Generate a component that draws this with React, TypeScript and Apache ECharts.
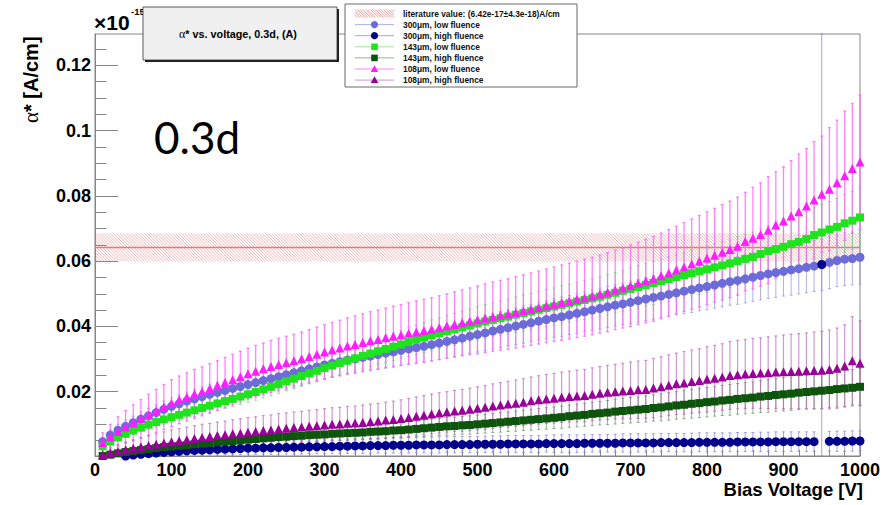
import React, { useEffect, useRef } from "react";
import * as echarts from "echarts";

// ---------- data ----------
const voltages = [
  10, 20, 30, 40, 50, 60, 70, 80, 90, 100,
  110, 120, 130, 140, 150, 160, 170, 180, 190, 200,
  210, 220, 230, 240, 250, 260, 270, 280, 290, 300,
  310, 320, 330, 340, 350, 360, 370, 380, 390, 400,
  410, 420, 430, 440, 450, 460, 470, 480, 490, 500,
  510, 520, 530, 540, 550, 560, 570, 580, 590, 600,
  610, 620, 630, 640, 650, 660, 670, 680, 690, 700,
  710, 720, 730, 740, 750, 760, 770, 780, 790, 800,
  810, 820, 830, 840, 850, 860, 870, 880, 890, 900,
  910, 920, 930, 940, 950, 960, 970, 980, 990, 1000,
];

const alpha300Low = [
  .0047, .0067, .0082, .0094, .0105, .0116, .0126, .0136, .0146, .0155,
  .0163, .0171, .0178, .0185, .0192, .0198, .0204, .0210, .0216, .0222,
  .0228, .0234, .0240, .0246, .0252, .0258, .0264, .0270, .0276, .0282,
  .0287, .0292, .0297, .0301, .0305, .0309, .0314, .0318, .0322, .0327,
  .0331, .0335, .0339, .0344, .0349, .0354, .0359, .0364, .0370, .0375,
  .0380, .0386, .0391, .0396, .0401, .0406, .0411, .0416, .0421, .0426,
  .0430, .0435, .0440, .0445, .0450, .0455, .0460, .0465, .0469, .0474,
  .0479, .0484, .0489, .0493, .0498, .0503, .0508, .0513, .0518, .0522,
  .0527, .0532, .0537, .0541, .0546, .0551, .0556, .0561, .0565, .0569,
  .0573, .0577, .0581, .0585, .0589, .0596, .0602, .0606, .0608, .0612,
];
const err300Low = [
  .0014, .0016, .0018, .0019, .0020, .0022, .0023, .0024, .0025, .0026,
  .0027, .0028, .0029, .0030, .0031, .0031, .0032, .0033, .0034, .0034,
  .0035, .0036, .0037, .0037, .0038, .0039, .0040, .0040, .0041, .0042,
  .0042, .0043, .0044, .0044, .0045, .0045, .0046, .0046, .0047, .0047,
  .0048, .0048, .0049, .0049, .0050, .0051, .0051, .0052, .0052, .0053,
  .0054, .0054, .0055, .0055, .0056, .0057, .0057, .0058, .0058, .0059,
  .0060, .0060, .0061, .0061, .0062, .0062, .0063, .0064, .0064, .0065,
  .0065, .0066, .0067, .0067, .0068, .0068, .0069, .0070, .0070, .0071,
  .0071, .0072, .0072, .0073, .0074, .0074, .0075, .0075, .0076, .0076,
  .0077, .0077, .0078, .0078, .0079, .0080, .0080, .0081, .0081, .0082,
];

const alpha300High = [
  null, null, null, .0003, .0006, .0008, .0010, .0012, .0014, .0016,
  .0017, .0019, .0020, .0021, .0022, .0023, .0024, .0025, .0026, .0027,
  .0027, .0028, .0028, .0029, .0029, .0030, .0030, .0031, .0031, .0032,
  .0032, .0033, .0033, .0034, .0034, .0035, .0035, .0035, .0036, .0036,
  .0036, .0037, .0037, .0037, .0037, .0038, .0038, .0038, .0038, .0039,
  .0039, .0039, .0039, .0040, .0040, .0040, .0040, .0040, .0041, .0041,
  .0041, .0041, .0041, .0042, .0042, .0042, .0042, .0042, .0043, .0043,
  .0043, .0043, .0043, .0044, .0044, .0044, .0044, .0044, .0045, .0045,
  .0045, .0045, .0045, .0046, .0046, .0046, .0046, .0046, .0047, .0047,
  .0047, .0047, .0047, .0047, .0590, .0048, .0048, .0048, .0049, .0049,
];
const err300High = [
  null, null, null, .0006, .0008, .0009, .0010, .0011, .0012, .0013,
  .0014, .0015, .0015, .0016, .0016, .0017, .0017, .0018, .0018, .0019,
  .0019, .0019, .0020, .0020, .0020, .0021, .0021, .0021, .0021, .0022,
  .0022, .0022, .0022, .0023, .0023, .0023, .0023, .0023, .0024, .0024,
  .0024, .0024, .0024, .0024, .0025, .0025, .0025, .0025, .0025, .0025,
  .0025, .0026, .0026, .0026, .0026, .0026, .0026, .0026, .0026, .0027,
  .0027, .0027, .0027, .0027, .0027, .0027, .0027, .0027, .0028, .0028,
  .0028, .0028, .0028, .0028, .0028, .0028, .0028, .0029, .0029, .0029,
  .0029, .0029, .0029, .0029, .0029, .0029, .0030, .0030, .0030, .0030,
  .0030, .0030, .0030, .0030, .0800, .0030, .0031, .0031, .0031, .0031,
];

const alpha143Low = [
  .0033, .0047, .0060, .0071, .0081, .0090, .0099, .0107, .0115, .0122,
  .0129, .0136, .0143, .0150, .0157, .0164, .0171, .0178, .0185, .0192,
  .0199, .0207, .0215, .0223, .0232, .0240, .0248, .0256, .0264, .0272,
  .0280, .0288, .0295, .0302, .0310, .0317, .0324, .0331, .0338, .0345,
  .0352, .0359, .0366, .0373, .0379, .0385, .0391, .0397, .0403, .0409,
  .0415, .0420, .0425, .0430, .0436, .0441, .0446, .0451, .0456, .0461,
  .0466, .0471, .0476, .0481, .0486, .0491, .0497, .0503, .0509, .0515,
  .0521, .0527, .0533, .0539, .0545, .0551, .0557, .0563, .0569, .0575,
  .0581, .0587, .0593, .0600, .0607, .0613, .0622, .0631, .0637, .0644,
  .0652, .0659, .0668, .0680, .0688, .0697, .0705, .0716, .0724, .0734,
];
const err143Low = [
  .0007, .0009, .0010, .0011, .0012, .0013, .0014, .0015, .0016, .0016,
  .0017, .0018, .0019, .0020, .0020, .0021, .0022, .0023, .0024, .0024,
  .0025, .0026, .0027, .0028, .0029, .0030, .0031, .0032, .0033, .0034,
  .0035, .0036, .0037, .0038, .0039, .0040, .0040, .0041, .0042, .0043,
  .0044, .0045, .0046, .0047, .0047, .0048, .0049, .0050, .0050, .0051,
  .0052, .0052, .0053, .0054, .0054, .0055, .0055, .0056, .0057, .0057,
  .0058, .0058, .0059, .0060, .0060, .0061, .0062, .0062, .0063, .0064,
  .0065, .0065, .0066, .0067, .0068, .0068, .0069, .0070, .0071, .0071,
  .0072, .0073, .0074, .0075, .0076, .0076, .0077, .0078, .0079, .0080,
  .0081, .0082, .0083, .0084, .0085, .0086, .0087, .0088, .0089, .0090,
];

const alpha143High = [
  .0003, .0007, .0011, .0015, .0018, .0021, .0024, .0027, .0030, .0032,
  .0034, .0036, .0039, .0041, .0043, .0045, .0047, .0049, .0051, .0053,
  .0055, .0057, .0059, .0061, .0062, .0064, .0065, .0067, .0068, .0069,
  .0071, .0072, .0073, .0074, .0075, .0077, .0078, .0079, .0081, .0082,
  .0084, .0086, .0088, .0090, .0092, .0094, .0095, .0097, .0098, .0100,
  .0102, .0104, .0106, .0108, .0110, .0112, .0114, .0116, .0118, .0120,
  .0122, .0125, .0127, .0129, .0132, .0134, .0136, .0139, .0141, .0143,
  .0145, .0147, .0150, .0152, .0155, .0158, .0160, .0163, .0165, .0168,
  .0170, .0173, .0175, .0178, .0180, .0182, .0185, .0187, .0190, .0192,
  .0194, .0197, .0199, .0201, .0203, .0205, .0208, .0210, .0212, .0215,
];
const err143High = [
  .0004, .0005, .0006, .0007, .0008, .0009, .0009, .0010, .0011, .0011,
  .0012, .0012, .0013, .0013, .0014, .0014, .0015, .0015, .0016, .0016,
  .0017, .0017, .0018, .0018, .0018, .0019, .0019, .0020, .0020, .0020,
  .0021, .0021, .0021, .0022, .0022, .0022, .0023, .0023, .0023, .0024,
  .0024, .0025, .0025, .0026, .0026, .0027, .0027, .0027, .0028, .0028,
  .0029, .0029, .0030, .0030, .0031, .0031, .0032, .0032, .0033, .0033,
  .0034, .0034, .0035, .0035, .0036, .0036, .0037, .0038, .0038, .0039,
  .0039, .0040, .0040, .0041, .0042, .0042, .0043, .0044, .0044, .0045,
  .0045, .0046, .0047, .0047, .0048, .0048, .0049, .0050, .0050, .0051,
  .0051, .0052, .0052, .0053, .0054, .0054, .0055, .0055, .0056, .0056,
];

const alpha108Low = [
  .0044, .0062, .0078, .0092, .0105, .0117, .0129, .0141, .0153, .0165,
  .0175, .0184, .0193, .0201, .0210, .0219, .0228, .0237, .0246, .0255,
  .0263, .0270, .0277, .0283, .0289, .0295, .0301, .0308, .0315, .0322,
  .0328, .0334, .0340, .0345, .0351, .0356, .0360, .0365, .0370, .0374,
  .0379, .0383, .0387, .0391, .0396, .0401, .0406, .0411, .0416, .0420,
  .0425, .0430, .0434, .0438, .0443, .0448, .0453, .0458, .0463, .0468,
  .0473, .0478, .0483, .0488, .0493, .0499, .0505, .0512, .0518, .0525,
  .0532, .0539, .0546, .0555, .0564, .0573, .0582, .0591, .0600, .0609,
  .0618, .0627, .0636, .0646, .0660, .0670, .0682, .0695, .0711, .0723,
  .0738, .0751, .0769, .0787, .0805, .0820, .0840, .0862, .0884, .0904,
];
const err108Low = [
  .0030, .0038, .0045, .0050, .0055, .0059, .0063, .0066, .0069, .0072,
  .0073, .0074, .0075, .0075, .0076, .0076, .0077, .0077, .0078, .0078,
  .0079, .0079, .0080, .0080, .0081, .0081, .0082, .0082, .0083, .0083,
  .0084, .0085, .0086, .0087, .0088, .0089, .0090, .0091, .0092, .0093,
  .0094, .0095, .0096, .0097, .0098, .0099, .0100, .0101, .0102, .0104,
  .0105, .0106, .0107, .0108, .0109, .0110, .0111, .0112, .0113, .0114,
  .0115, .0116, .0117, .0118, .0119, .0120, .0121, .0122, .0123, .0125,
  .0126, .0128, .0130, .0131, .0133, .0134, .0136, .0138, .0140, .0142,
  .0144, .0146, .0148, .0150, .0151, .0156, .0158, .0164, .0163, .0166,
  .0170, .0177, .0176, .0179, .0178, .0189, .0192, .0198, .0199, .0205,
];

const alpha108High = [
  .0006, .0012, .0017, .0022, .0027, .0031, .0035, .0039, .0043, .0047,
  .0050, .0053, .0057, .0060, .0063, .0066, .0068, .0071, .0073, .0076,
  .0078, .0081, .0083, .0086, .0088, .0090, .0092, .0094, .0096, .0098,
  .0100, .0101, .0103, .0104, .0106, .0108, .0110, .0113, .0115, .0118,
  .0121, .0125, .0128, .0132, .0135, .0138, .0141, .0143, .0146, .0149,
  .0152, .0156, .0159, .0162, .0165, .0168, .0172, .0175, .0178, .0180,
  .0183, .0185, .0187, .0188, .0192, .0195, .0198, .0200, .0202, .0204,
  .0206, .0207, .0211, .0215, .0220, .0224, .0227, .0231, .0234, .0238,
  .0241, .0245, .0250, .0252, .0254, .0256, .0257, .0258, .0260, .0261,
  .0262, .0263, .0264, .0265, .0266, .0268, .0272, .0279, .0295, .0287,
];
const err108High = [
  .0015, .0018, .0021, .0024, .0026, .0028, .0030, .0032, .0034, .0036,
  .0037, .0038, .0039, .0040, .0040, .0041, .0042, .0043, .0044, .0045,
  .0045, .0046, .0046, .0047, .0047, .0048, .0048, .0049, .0049, .0050,
  .0051, .0051, .0052, .0052, .0053, .0054, .0054, .0055, .0056, .0057,
  .0058, .0059, .0060, .0061, .0062, .0062, .0063, .0064, .0065, .0066,
  .0067, .0068, .0069, .0070, .0071, .0072, .0073, .0074, .0075, .0076,
  .0077, .0078, .0079, .0080, .0081, .0082, .0083, .0084, .0085, .0087,
  .0088, .0089, .0091, .0092, .0093, .0094, .0096, .0097, .0098, .0100,
  .0101, .0102, .0104, .0105, .0106, .0107, .0108, .0110, .0111, .0113,
  .0114, .0115, .0116, .0118, .0119, .0121, .0123, .0126, .0135, .0130,
];

const literatureValue = 0.0642;
const literatureError = 0.0043;
const literatureLabel = "literature value: (6.42e-17\u00b14.3e-18)A/cm";

const yMajorTicks = [0.02, 0.04, 0.06, 0.08, 0.1, 0.12];
const yMinorTicks = [
  0.005, 0.01, 0.015, 0.025, 0.03, 0.035, 0.045, 0.05, 0.055, 0.065, 0.07,
  0.075, 0.085, 0.09, 0.095, 0.105, 0.11, 0.115, 0.125,
];

// ---------- styling ----------
const Y_MIN = 0.0003;
const Y_MAX = 0.1296;
const FONT = '"Liberation Sans", Arial, Helvetica, sans-serif';
const SERIF = '"Liberation Serif", "DejaVu Serif", serif';
const AXIS_GRAY = "#858585";

type Def = {
  name: string;
  values: (number | null)[];
  errors: (number | null)[];
  symbol: string;
  color: string;
  barColor: string;
  barWidth: number;
  size: number;
};

const seriesDefs: Def[] = [
  { name: "300\u03bcm, low fluence", values: alpha300Low, errors: err300Low, symbol: "circle", color: "#6c6cd8", barColor: "rgba(150,150,232,0.75)", barWidth: 1, size: 9 },
  { name: "300\u03bcm, high fluence", values: alpha300High, errors: err300High, symbol: "circle", color: "#00008c", barColor: "rgba(140,140,220,0.8)", barWidth: 1, size: 9 },
  { name: "143\u03bcm, low fluence", values: alpha143Low, errors: err143Low, symbol: "rect", color: "#1ee41e", barColor: "rgba(110,220,110,0.7)", barWidth: 1, size: 8 },
  { name: "143\u03bcm, high fluence", values: alpha143High, errors: err143High, symbol: "rect", color: "#0d550d", barColor: "rgba(70,130,70,0.6)", barWidth: 1, size: 8 },
  { name: "108\u03bcm, low fluence", values: alpha108Low, errors: err108Low, symbol: "triangle", color: "#ff1eff", barColor: "rgba(255,100,255,0.8)", barWidth: 1.3, size: 9 },
  { name: "108\u03bcm, high fluence", values: alpha108High, errors: err108High, symbol: "triangle", color: "#990099", barColor: "rgba(185,95,185,0.65)", barWidth: 1.2, size: 9 },
];

function hatch(x0: number, x1: number, yTop: number, yBot: number, step: number, stroke: string, lw: number) {
  const h = yBot - yTop;
  const out: any[] = [];
  for (let s = x0 - h; s < x1; s += step) {
    const t0 = Math.max(0, (x0 - s) / h);
    const t1 = Math.min(1, (x1 - s) / h);
    if (t1 <= t0) continue;
    out.push({
      type: "line",
      shape: { x1: s + t0 * h, y1: yTop + t0 * h, x2: s + t1 * h, y2: yTop + t1 * h },
      style: { stroke, lineWidth: lw },
      silent: true,
    });
  }
  return out;
}

function buildOption(): any {
  const errorSeries = seriesDefs.map((d) => ({
    type: "custom",
    name: d.name + " (error)",
    xAxisIndex: 0,
    yAxisIndex: 0,
    z: 3,
    silent: true,
    encode: { x: 0, y: 1 },
    data: voltages
      .map((v, i) => (d.values[i] == null ? null : [v, d.values[i], d.errors[i]]))
      .filter((p) => p != null),
    renderItem: (params: any, api: any) => {
      const x = api.value(0);
      const y = api.value(1);
      const e = api.value(2);
      const hi = Math.min(y + e, Y_MAX);
      const lo = Math.max(y - e, Y_MIN);
      const p1 = api.coord([x, hi]);
      const p2 = api.coord([x, lo]);
      const st = { stroke: d.barColor, lineWidth: d.barWidth };
      return {
        type: "group",
        children: [
          { type: "line", shape: { x1: p1[0], y1: p1[1], x2: p2[0], y2: p2[1] }, style: st },
          { type: "line", shape: { x1: p1[0] - 1.5, y1: p1[1], x2: p1[0] + 1.5, y2: p1[1] }, style: st },
          { type: "line", shape: { x1: p2[0] - 1.5, y1: p2[1], x2: p2[0] + 1.5, y2: p2[1] }, style: st },
        ],
      };
    },
  }));

  const markerSeries = seriesDefs.map((d) => ({
    type: "scatter",
    name: d.name,
    xAxisIndex: 0,
    yAxisIndex: 0,
    z: 4,
    symbol: d.symbol,
    symbolSize: d.size,
    itemStyle: { color: d.color, opacity: 1 },
    data: voltages
      .map((v, i) => (d.values[i] == null ? null : [v, d.values[i]]))
      .filter((p) => p != null),
  }));

  const bandSeries = {
    type: "custom",
    name: "literature value",
    xAxisIndex: 0,
    yAxisIndex: 0,
    z: 2,
    silent: true,
    data: [[0, 1000, literatureValue, literatureError]],
    renderItem: (params: any, api: any) => {
      const x0 = api.coord([api.value(0), literatureValue])[0];
      const x1 = api.coord([api.value(1), literatureValue])[0];
      const v = api.value(2);
      const e = api.value(3);
      const yTop = api.coord([0, v + e])[1];
      const yBot = api.coord([0, v - e])[1];
      const yMid = api.coord([0, v])[1];
      return {
        type: "group",
        children: [
          ...hatch(x0, x1, yTop, yBot, 3.1, "rgba(236,120,120,0.7)", 0.8),
          { type: "line", shape: { x1: x0, y1: yMid, x2: x1, y2: yMid }, style: { stroke: "#ea7878", lineWidth: 1.6 } },
        ],
      };
    },
  };

  // ----- legend & annotations (graphic) -----
  const LX0 = 355, LX1 = 394, LMX = 374.5, LTX = 403;
  const rowY = (i: number) => 13.5 + 11.1 * i;
  const legendChildren: any[] = [
    { type: "rect", shape: { x: 345, y: 4, width: 232, height: 83 }, style: { fill: "#ffffff", stroke: "#6a6a6a", lineWidth: 1 } },
    ...hatch(LX0, LX1, 9.5, 17.5, 2.6, "rgba(236,110,110,0.85)", 0.8),
    { type: "text", x: LTX, y: rowY(0), style: { text: literatureLabel, font: `bold 8.4px ${FONT}`, fill: "#111", align: "left", verticalAlign: "middle" } },
  ];
  seriesDefs.forEach((d, k) => {
    const y = rowY(k + 1);
    legendChildren.push({ type: "line", shape: { x1: LX0, y1: y, x2: LX1, y2: y }, style: { stroke: d.barColor, lineWidth: 1 } });
    if (d.symbol === "circle") {
      legendChildren.push({ type: "circle", shape: { cx: LMX, cy: y, r: 3.6 }, style: { fill: d.color } });
    } else if (d.symbol === "rect") {
      legendChildren.push({ type: "rect", shape: { x: LMX - 3.3, y: y - 3.3, width: 6.6, height: 6.6 }, style: { fill: d.color } });
    } else {
      legendChildren.push({ type: "polygon", shape: { points: [[LMX, y - 3.8], [LMX + 3.8, y + 3], [LMX - 3.8, y + 3]] }, style: { fill: d.color } });
    }
    legendChildren.push({ type: "text", x: LTX, y, style: { text: d.name, font: `bold 8.4px ${FONT}`, fill: "#111", align: "left", verticalAlign: "middle" } });
  });

  const graphic = [
    // x10^-15 exponent
    { type: "text", x: 94, y: 22, z: 50, style: { text: "\u00d710", font: `bold 21px ${FONT}`, fill: "#000", align: "left", verticalAlign: "middle" } },
    { type: "text", x: 131, y: 11, z: 50, style: { text: "-15", font: `bold 9.5px ${FONT}`, fill: "#000", align: "left", verticalAlign: "middle" } },
    // title box
    { type: "rect", z: 60, shape: { x: 145, y: 9, width: 194, height: 53 }, style: { fill: "#1e1e1e" } },
    { type: "rect", z: 61, shape: { x: 143, y: 7, width: 194, height: 53 }, style: { fill: "#f0f0f0", stroke: "#333", lineWidth: 0.8 } },
    {
      type: "text", z: 62, x: 238, y: 34,
      style: {
        text: "{g|\u03b1}{b|* vs. voltage, 0.3d, (A)}",
        align: "center", verticalAlign: "middle",
        rich: {
          g: { fontFamily: SERIF, fontSize: 12, fill: "#000" },
          b: { fontFamily: FONT, fontWeight: "bold", fontSize: 10.8, fill: "#000" },
        },
      },
    },
    // legend
    { type: "group", z: 70, children: legendChildren },
    // big annotation
    { type: "text", z: 50, x: 154, y: 137, style: { text: "0.3d", font: `44px Lato, "Open Sans", sans-serif`, fill: "#000", align: "left", verticalAlign: "middle" } },
    // axis titles
    {
      type: "text", z: 50, x: 31, y: 123, rotation: Math.PI / 2,
      style: {
        text: "{g|\u03b1}{b|* [A/cm]}",
        align: "left", verticalAlign: "middle",
        rich: {
          g: { fontFamily: SERIF, fontSize: 21, fill: "#000" },
          b: { fontFamily: FONT, fontWeight: "bold", fontSize: 20, fill: "#000" },
        },
      },
    },
    { type: "text", z: 50, x: 863, y: 489, style: { text: "Bias Voltage [V]", font: `bold 18.5px ${FONT}`, fill: "#000", align: "right", verticalAlign: "middle" } },
  ];

  return {
    animation: false,
    backgroundColor: "#ffffff",
    textStyle: { fontFamily: FONT },
    grid: { left: 95, right: 20, top: 34, bottom: 49, show: true, borderColor: AXIS_GRAY, borderWidth: 1, backgroundColor: "transparent" },
    xAxis: [
      {
        type: "value", min: 0, max: 1000, interval: 100, position: "bottom",
        axisLine: { show: true, lineStyle: { color: AXIS_GRAY, width: 1 } },
        axisTick: { show: true, inside: true, length: 12.5, lineStyle: { color: AXIS_GRAY } },
        minorTick: { show: true, splitNumber: 5, length: 6.3, lineStyle: { color: AXIS_GRAY } },
        splitLine: { show: false },
        axisLabel: {
          color: "#000", fontFamily: FONT, fontWeight: "bold", fontSize: 18, margin: 5,
          formatter: (v: number) => String(v),
        },
      },
    ],
    yAxis: [
      {
        type: "value", min: Y_MIN, max: Y_MAX, position: "left", offset: 0,
        axisLine: { show: true, lineStyle: { color: AXIS_GRAY, width: 1 } },
        axisTick: { show: true, inside: true, length: 23, customValues: yMajorTicks, lineStyle: { color: AXIS_GRAY } },
        splitLine: { show: false },
        axisLabel: {
          customValues: yMajorTicks, color: "#000", fontFamily: FONT, fontWeight: "bold", fontSize: 18, margin: 4,
          formatter: (v: number) => String(Number(v.toPrecision(3))),
        },
      },
      {
        type: "value", min: Y_MIN, max: Y_MAX, position: "left", offset: 0,
        axisLine: { show: false },
        axisTick: { show: true, inside: true, length: 11.5, customValues: yMinorTicks, lineStyle: { color: AXIS_GRAY } },
        splitLine: { show: false },
        axisLabel: { show: false },
      },
    ],
    series: [bandSeries, ...errorSeries, ...markerSeries],
    graphic,
  };
}

export default function App() {
  const ref = useRef<HTMLDivElement>(null);
  useEffect(() => {
    document.body.style.margin = "0";
    const chart = echarts.init(ref.current as HTMLDivElement, null, { renderer: "svg" });
    chart.setOption(buildOption());
    return () => chart.dispose();
  }, []);
  return <div ref={ref} style={{ width: 883, height: 505 }} />;
}
